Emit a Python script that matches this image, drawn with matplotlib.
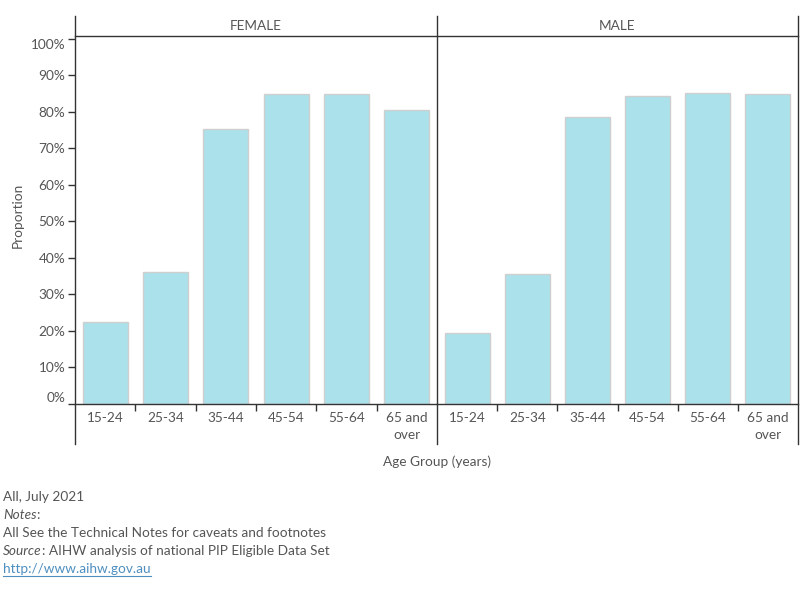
import matplotlib
matplotlib.use('Agg')
import matplotlib.pyplot as plt
from matplotlib.lines import Line2D

plt.rcParams['font.family'] = ['Lato', 'DejaVu Sans']

# data
age_groups = ['15-24', '25-34', '35-44', '45-54', '55-64', '65 and\nover']
female = [22.4, 36.1, 75.4, 84.9, 84.9, 80.6]
male = [19.4, 35.6, 78.5, 84.4, 85.1, 84.8]
panels = ['FEMALE', 'MALE']
yticks = [0, 10, 20, 30, 40, 50, 60, 70, 80, 90, 100]

bar_col = '#abe1ea'
edge_col = '#cfcfcf'
txt_col = '#555555'
line_col = '#333333'

W, H = 800, 600
fig = plt.figure(figsize=(8, 6), dpi=100)

def fx(px):
    return px / W

def fy(py):
    return 1 - py / H

x0, xmid, x1 = 75, 437, 798
ytop, ybase = 36, 404
fs = 9.8

axes = []
for i, (name, vals) in enumerate(zip(panels, [female, male])):
    left = x0 if i == 0 else xmid
    right = xmid if i == 0 else x1
    ax = fig.add_axes([fx(left), fy(ybase), fx(right - left), (ybase - ytop) / H])
    pos = range(len(age_groups))
    ax.bar(pos, vals, width=0.75, color=bar_col, edgecolor=edge_col, linewidth=1)
    ax.set_xlim(-0.5, len(age_groups) - 0.5)
    ax.set_ylim(0, 100.8)
    for s in ['top', 'right', 'left']:
        ax.spines[s].set_visible(False)
    ax.spines['bottom'].set_color(line_col)
    ax.spines['bottom'].set_linewidth(1)
    ax.set_xticks(list(pos))
    ax.set_xticklabels(age_groups, fontsize=fs, color=txt_col, linespacing=1.5, va='top')
    ax.tick_params(axis='x', which='major', length=0, pad=6)
    ax.set_xticks([p + 0.5 for p in range(len(age_groups) - 1)], minor=True)
    ax.tick_params(axis='x', which='minor', length=5, color=line_col, width=1)
    if i == 0:
        ax.set_yticks(yticks)
        ax.set_yticklabels([f'{t}%' for t in yticks], fontsize=fs, color=txt_col)
        ax.tick_params(axis='y', length=5, color=line_col, width=1, pad=2)
        labs = ax.get_yticklabels()
        labs[0].set_va('bottom')
        labs[-1].set_va('top')
    else:
        ax.set_yticks([])
    ax.patch.set_alpha(0)
    fig.text(fx((left + right) / 2), fy(26), name, ha='center', va='center',
             fontsize=fs, color=txt_col)
    axes.append(ax)

# pane borders and header line
for xp in [x0, xmid, x1]:
    fig.add_artist(Line2D([fx(xp), fx(xp)], [fy(16), fy(444)], color=line_col, lw=1))
fig.add_artist(Line2D([fx(x0), fx(x1)], [fy(ytop), fy(ytop)], color=line_col, lw=1))

fig.text(fx(18), fy(215), 'Proportion', rotation=90, ha='center', va='center',
         fontsize=fs, color=txt_col)
fig.text(fx(437), fy(462), 'Age Group (years)', ha='center', va='center',
         fontsize=fs, color=txt_col)

# footnotes
renderer = fig.canvas.get_renderer()
fig.text(fx(3), fy(497), 'All, July 2021', va='center', fontsize=fs, color=txt_col)
t = fig.text(fx(3), fy(515), 'Notes', va='center', fontsize=fs, color=txt_col, style='italic')
bb = t.get_window_extent(renderer)
fig.text(bb.x1 / W, fy(515), ':', va='center', fontsize=fs, color=txt_col)
fig.text(fx(3), fy(533), 'All See the Technical Notes for caveats and footnotes',
         va='center', fontsize=fs, color=txt_col)
t = fig.text(fx(3), fy(551), 'Source', va='center', fontsize=fs, color=txt_col, style='italic')
bb = t.get_window_extent(renderer)
fig.text(bb.x1 / W, fy(551), ': AIHW analysis of national PIP Eligible Data Set',
         va='center', fontsize=fs, color=txt_col)
link = fig.text(fx(3), fy(569), 'http://www.aihw.gov.au', va='center', fontsize=fs,
                color='#4e8fbf')
bb = link.get_window_extent(renderer)
fig.add_artist(Line2D([bb.x0 / W, bb.x1 / W], [fy(576), fy(576)], color='#4e8fbf', lw=0.8))

fig.savefig('out.png', dpi=100)
